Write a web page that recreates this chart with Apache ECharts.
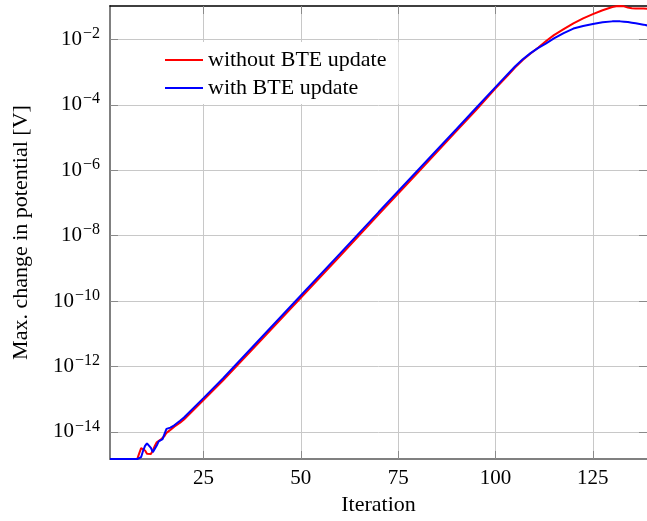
<!DOCTYPE html>
<html><head><meta charset="utf-8">
<script src="https://cdn.jsdelivr.net/npm/echarts@6/dist/echarts.min.js"></script>
<style>html,body{margin:0;padding:0;background:#fff}#c{width:647px;height:521px}</style>
</head><body><div id="c"></div>
<script>
// Iteration numbers (x)
const iterations = [1, 8, 8.5, 9, 9.5, 10, 10.5, 11, 11.5, 12, 12.5, 13, 13.5, 14, 14.5, 15, 15.5, 16, 16.5, 17, 17.5, 18, 19, 20,
  25, 30, 40, 50, 60, 70, 80, 90, 95, 100, 103, 105, 107, 109, 111, 113, 115, 117.5, 120, 122.5, 125, 127.5, 130,
  131, 132, 133, 134, 135, 136, 138, 140];
// log10 of max. change in potential [V]
const log10WithoutBTE = [-14.83, -14.83, -14.66, -14.5, -14.49, -14.57, -14.67, -14.72, -14.68, -14.57, -14.43, -14.32, -14.26, -14.24, -14.21, -14.13, -14.03, -13.97, -13.94, -13.91, -13.84, -13.80, -13.72, -13.62,
  -13.03, -12.43, -11.17, -9.90, -8.63, -7.35, -6.08, -4.80, -4.16, -3.50, -3.12, -2.86, -2.63, -2.43, -2.25, -2.05, -1.87, -1.69, -1.51, -1.36, -1.23, -1.11, -1.01,
  -0.99, -0.98, -0.99, -1.03, -1.05, -1.06, -1.06, -1.07];
const log10WithBTE = [-14.83, -14.83, -14.83, -14.77, -14.58, -14.43, -14.35, -14.36, -14.49, -14.62, -14.56, -14.42, -14.29, -14.25, -14.22, -14.06, -13.91, -13.88, -13.87, -13.85, -13.80, -13.74, -13.66, -13.56,
  -12.97, -12.37, -11.10, -9.83, -8.56, -7.28, -6.01, -4.74, -4.10, -3.46, -3.08, -2.83, -2.61, -2.42, -2.26, -2.12, -1.97, -1.81, -1.67, -1.59, -1.53, -1.48, -1.45,
  -1.45, -1.45, -1.46, -1.47, -1.49, -1.51, -1.55, -1.60];
const seriesNames = ['without BTE update', 'with BTE update'];
const xTicks = [25, 50, 75, 100, 125];
const yTickExponents = [-14, -12, -10, -8, -6, -4, -2];
const xRange = [1, 138.9];
const yRange = [-14.83, -0.98];
const xLabel = 'Iteration';
const yLabel = 'Max. change in potential [V]';

const FONT = '"Liberation Serif", "Times New Roman", serif';
const chart = echarts.init(document.getElementById('c'), null, {renderer: 'canvas'});

const tickStyle = {color: '#8a8a8a', width: 1};
function xAx(pos, main) {
  return {
    type: 'value', position: pos, min: xRange[0], max: xRange[1],
    axisLine: {show: true, onZero: false, lineStyle: main ? {color: '#808080', width: 2} : {color: '#000', width: 1.5}},
    axisTick: {show: true, inside: true, length: 8, customValues: xTicks, lineStyle: tickStyle},
    axisLabel: main ? {show: true, customValues: xTicks, margin: 9, fontFamily: FONT, fontSize: 21, color: '#000'} : {show: false},
    splitLine: {show: main, lineStyle: {color: '#c8c8c8', width: 1}},
    name: main ? xLabel : '', nameLocation: 'middle', nameGap: 33,
    nameTextStyle: {fontFamily: FONT, fontSize: 22, color: '#000'}
  };
}
function yAx(pos, main) {
  return {
    type: 'value', position: pos, min: yRange[0], max: yRange[1],
    axisLine: {show: main, onZero: false, lineStyle: {color: '#808080', width: 2}},
    axisTick: {show: true, inside: true, length: 8, customValues: yTickExponents, lineStyle: tickStyle},
    axisLabel: main ? {
      show: true, customValues: yTickExponents, margin: 10,
      formatter: v => '{a|10}{b|' + '\u2212' + Math.abs(Math.round(v)) + '}',
      rich: {
        a: {fontFamily: FONT, fontSize: 21, color: '#000', verticalAlign: 'bottom', lineHeight: 21},
        b: {fontFamily: FONT, fontSize: 16, color: '#000', verticalAlign: 'bottom', lineHeight: 16, padding: [0, 0, 8, 1]}
      }
    } : {show: false},
    splitLine: {show: main, lineStyle: {color: '#c8c8c8', width: 1}},
    name: main ? yLabel : '', nameLocation: 'middle', nameGap: 78, nameRotate: 90,
    nameTextStyle: {fontFamily: FONT, fontSize: 22, color: '#000'}
  };
}

chart.setOption({
  animation: false,
  backgroundColor: '#fff',
  grid: {left: 110, top: 6, right: 0, bottom: 62},
  xAxis: [xAx('bottom', true), xAx('top', false)],
  yAxis: [yAx('left', true), yAx('right', false)],
  legend: {
    data: seriesNames, left: 155, top: 42, orient: 'vertical',
    backgroundColor: '#fff', padding: [5, 12, 3, 10],
    itemWidth: 38, itemHeight: 2, itemGap: 2, icon: 'rect',
    textStyle: {fontFamily: FONT, fontSize: 22, color: '#000', lineHeight: 26}
  },
  series: [
    {name: seriesNames[0], type: 'line', data: iterations.map((x, i) => [x, log10WithoutBTE[i]]),
     showSymbol: false, clip: true, lineStyle: {color: '#ff0000', width: 2}, itemStyle: {color: '#ff0000'}},
    {name: seriesNames[1], type: 'line', data: iterations.map((x, i) => [x, log10WithBTE[i]]),
     showSymbol: false, clip: true, lineStyle: {color: '#0000ff', width: 2}, itemStyle: {color: '#0000ff'}}
  ]
});
</script></body></html>
